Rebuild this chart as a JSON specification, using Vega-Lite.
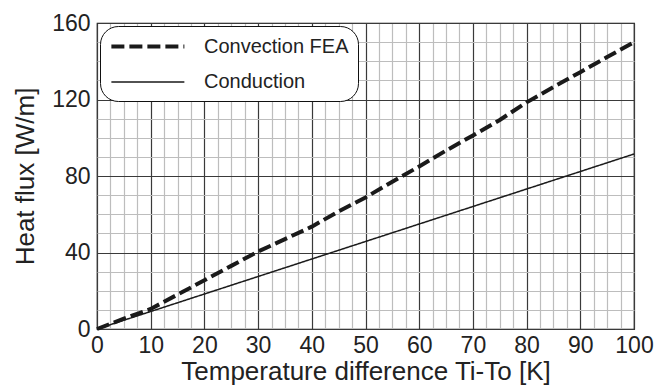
{
  "$schema": "https://vega.github.io/schema/vega-lite/v6.json",
  "width": 537,
  "height": 306,
  "autosize": {"type": "none"},
  "padding": {"left": 97, "top": 23, "right": 35, "bottom": 60},
  "background": "white",
  "config": {
    "font": "Liberation Sans",
    "view": {"stroke": "#111111", "strokeWidth": 1.2},
    "axis": {
      "labelFont": "Liberation Sans",
      "titleFont": "Liberation Sans",
      "labelColor": "#222222",
      "titleColor": "#222222",
      "titleFontWeight": "normal",
      "domain": false,
      "ticks": false,
      "labelFlush": false
    },
    "legend": {
      "orient": "top-left",
      "offset": 3,
      "padding": 9,
      "fillColor": "white",
      "strokeColor": "#111111",
      "cornerRadius": 18,
      "labelFont": "Liberation Sans",
      "labelFontSize": 20,
      "labelColor": "#222222",
      "symbolType": "M-1,0H7",
      "symbolSize": 333,
      "symbolStrokeColor": "#1a1a1a",
      "symbolFillColor": "transparent",
      "labelOffset": 72,
      "rowPadding": 15
    }
  },
  "data": {
    "values": [
      {"dT": 0, "q": 0, "series": "Convection FEA"},
      {"dT": 5, "q": 5.4, "series": "Convection FEA"},
      {"dT": 10, "q": 10.5, "series": "Convection FEA"},
      {"dT": 15, "q": 18, "series": "Convection FEA"},
      {"dT": 20, "q": 25.5, "series": "Convection FEA"},
      {"dT": 25, "q": 33, "series": "Convection FEA"},
      {"dT": 30, "q": 40.5, "series": "Convection FEA"},
      {"dT": 35, "q": 47, "series": "Convection FEA"},
      {"dT": 40, "q": 53.5, "series": "Convection FEA"},
      {"dT": 45, "q": 61.5, "series": "Convection FEA"},
      {"dT": 50, "q": 68.8, "series": "Convection FEA"},
      {"dT": 55, "q": 77, "series": "Convection FEA"},
      {"dT": 60, "q": 85, "series": "Convection FEA"},
      {"dT": 65, "q": 93.3, "series": "Convection FEA"},
      {"dT": 70, "q": 101.2, "series": "Convection FEA"},
      {"dT": 75, "q": 109.3, "series": "Convection FEA"},
      {"dT": 80, "q": 118.5, "series": "Convection FEA"},
      {"dT": 85, "q": 126.5, "series": "Convection FEA"},
      {"dT": 90, "q": 134.3, "series": "Convection FEA"},
      {"dT": 95, "q": 142.2, "series": "Convection FEA"},
      {"dT": 100, "q": 150, "series": "Convection FEA"},
      {"dT": 0, "q": 0, "series": "Conduction"},
      {"dT": 20, "q": 18.3, "series": "Conduction"},
      {"dT": 40, "q": 36.6, "series": "Conduction"},
      {"dT": 60, "q": 54.9, "series": "Conduction"},
      {"dT": 80, "q": 73.2, "series": "Conduction"},
      {"dT": 100, "q": 91.5, "series": "Conduction"}
    ]
  },
  "layer": [
    {
      "mark": {"type": "line", "opacity": 0},
      "encoding": {
        "x": {
          "field": "dT",
          "type": "quantitative",
          "scale": {"domain": [0, 100], "nice": false},
          "axis": {
            "orient": "bottom",
            "values": [2.5, 5, 7.5, 12.5, 15, 17.5, 22.5, 25, 27.5, 32.5, 35, 37.5, 42.5, 45, 47.5, 52.5, 55, 57.5, 62.5, 65, 67.5, 72.5, 75, 77.5, 82.5, 85, 87.5, 92.5, 95, 97.5],
            "grid": true,
            "gridColor": "#bdbdbd",
            "gridWidth": 1.2,
            "gridOpacity": 1,
            "labels": false,
            "title": null
          }
        },
        "y": {
          "field": "q",
          "type": "quantitative",
          "scale": {"domain": [0, 160], "nice": false},
          "axis": {
            "orient": "left",
            "values": [10, 20, 30, 50, 60, 70, 90, 100, 110, 130, 140, 150],
            "grid": true,
            "gridColor": "#bdbdbd",
            "gridWidth": 1.2,
            "gridOpacity": 1,
            "labels": false,
            "title": null
          }
        },
        "detail": {"field": "series"}
      }
    },
    {
      "mark": {"type": "line", "color": "#1a1a1a"},
      "encoding": {
        "x": {
          "field": "dT",
          "type": "quantitative",
          "scale": {"domain": [0, 100], "nice": false},
          "axis": {
            "orient": "bottom",
            "values": [0, 10, 20, 30, 40, 50, 60, 70, 80, 90, 100],
            "grid": true,
            "gridColor": "#3a3a3a",
            "gridWidth": 1.2,
            "gridOpacity": 1,
            "labelFontSize": 23,
            "labelPadding": 5,
            "title": "Temperature difference Ti-To [K]",
            "titleFontSize": 26,
            "titlePadding": 1
          }
        },
        "y": {
          "field": "q",
          "type": "quantitative",
          "scale": {"domain": [0, 160], "nice": false},
          "axis": {
            "orient": "left",
            "values": [0, 40, 80, 120, 160],
            "grid": true,
            "gridColor": "#3a3a3a",
            "gridWidth": 1.2,
            "gridOpacity": 1,
            "labelFontSize": 23,
            "labelPadding": 7,
            "title": "Heat flux [W/m]",
            "titleFontSize": 26,
            "titlePadding": 13
          }
        },
        "strokeDash": {
          "field": "series",
          "type": "nominal",
          "scale": {"domain": ["Convection FEA", "Conduction"], "range": [[13, 5], [1, 0]]},
          "legend": {"title": null}
        },
        "strokeWidth": {
          "field": "series",
          "type": "nominal",
          "scale": {"domain": ["Convection FEA", "Conduction"], "range": [4, 1.5]},
          "legend": {"title": null}
        }
      }
    }
  ],
  "resolve": {"axis": {"x": "independent", "y": "independent"}}
}
